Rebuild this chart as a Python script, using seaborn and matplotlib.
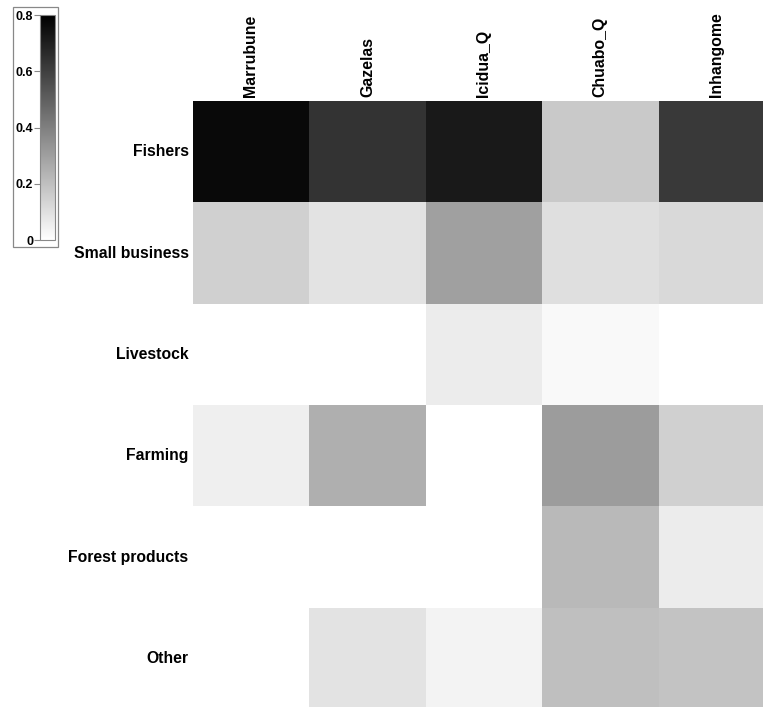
import numpy as np
import pandas as pd
import matplotlib
matplotlib.use("Agg")
import matplotlib.pyplot as plt
from matplotlib.colors import LinearSegmentedColormap
from matplotlib.patches import Rectangle
import seaborn as sns

# Livelihood activity shares by village
villages = ["Marrubune", "Gazelas", "Icidua_Q", "Chuabo_Q", "Inhangome"]
activities = ["Fishers", "Small business", "Livestock", "Farming", "Forest products", "Other"]

fishers = [0.77, 0.64, 0.72, 0.17, 0.62]
small_business = [0.15, 0.09, 0.30, 0.10, 0.12]
livestock = [0.00, 0.00, 0.06, 0.02, 0.00]
farming = [0.05, 0.25, 0.00, 0.31, 0.15]
forest_products = [0.00, 0.00, 0.00, 0.22, 0.06]
other = [0.00, 0.09, 0.04, 0.20, 0.19]

cbar_ticks = [0, 0.2, 0.4, 0.6, 0.8]
cbar_ticklabels = ["0", "0.2", "0.4", "0.6", "0.8"]

df = pd.DataFrame(
    [fishers, small_business, livestock, farming, forest_products, other],
    index=activities, columns=villages,
)

sns.set_style("white")
plt.rcParams["font.family"] = ["Liberation Sans", "DejaVu Sans"]
plt.rcParams["font.weight"] = "bold"
plt.rcParams["text.color"] = "black"
plt.rcParams["xtick.color"] = "black"
plt.rcParams["ytick.color"] = "black"
plt.rcParams["xtick.labelcolor"] = "black"
plt.rcParams["ytick.labelcolor"] = "black"

cmap = LinearSegmentedColormap.from_list("wb", ["#ffffff", "#000000"])

fig = plt.figure(figsize=(7.63, 7.07), dpi=100)
ax = fig.add_axes([0.2526, -0.003, 0.7632, 0.860])
cax = fig.add_axes([0.0524, 0.6605, 0.0197, 0.318])

sns.heatmap(df, ax=ax, cmap=cmap, vmin=0, vmax=0.8, linewidths=0,
            cbar_ax=cax, cbar_kws={"ticks": cbar_ticks})

# Column labels on top, rotated
ax.xaxis.tick_top()
ax.set_xticklabels(villages, rotation=90, fontsize=11.4, fontweight="bold",
                   ha="center", va="bottom", color="black")
ax.set_yticklabels(activities, rotation=0, fontsize=11.3, fontweight="bold",
                   color="black")
ax.tick_params(axis="both", length=0, pad=3)
ax.set_xlabel("")
ax.set_ylabel("")

# Colorbar with ticks on the left side
cax.yaxis.set_ticks_position("left")
cax.set_yticks(cbar_ticks)
cax.set_yticklabels(cbar_ticklabels, fontsize=9, fontweight="bold", color="black")
cax.tick_params(axis="y", length=4, width=0.8, color="#888888", pad=1)
cb = ax.collections[0].colorbar
cb.outline.set_edgecolor("#888888")
cb.outline.set_linewidth(0.8)

# Frame around the colour key
fig.patches.append(Rectangle((0.017, 0.6506), 0.059, 0.339,
                             transform=fig.transFigure, fill=False,
                             edgecolor="#888888", linewidth=0.9))

fig.savefig("out.png", dpi=100)
